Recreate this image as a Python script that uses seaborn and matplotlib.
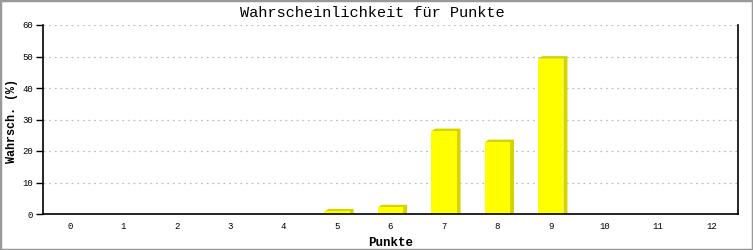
import matplotlib
matplotlib.use("Agg")
import matplotlib.pyplot as plt
from matplotlib.patches import Polygon, Rectangle
import seaborn as sns
import pandas as pd

punkte = [0, 1, 2, 3, 4, 5, 6, 7, 8, 9, 10, 11, 12]
wahrsch = [0, 0, 0, 0, 0, 0.8, 2.1, 26.3, 22.8, 49.3, 0, 0, 0]
y_ticks = [0, 10, 20, 30, 40, 50, 60]

df = pd.DataFrame({"Punkte": [str(p) for p in punkte], "Wahrsch": wahrsch})

sns.set_style("white")
plt.rcParams['font.family'] = ['Liberation Mono', 'DejaVu Sans Mono']
plt.rcParams['text.color'] = 'black'
plt.rcParams['axes.labelcolor'] = 'black'
plt.rcParams['xtick.color'] = 'black'
plt.rcParams['ytick.color'] = 'black'

fig = plt.figure(figsize=(7.53, 2.5), dpi=100)
ax = fig.add_axes([43/753, 36/250, 695/753, 189/250])

sns.barplot(data=df, x="Punkte", y="Wahrsch", color="#ffff00", width=0.47,
            saturation=1, ax=ax, zorder=3, linewidth=0)

# 3D shadow derived from bar patches
dx_px, dy_px = 4.0, 3.0
for p in list(ax.patches):
    x0, y0 = p.get_x(), p.get_y()
    w, h = p.get_width(), p.get_height()
    if h <= 0:
        continue
    pts = ax.transData.transform([(x0, y0), (x0 + w, y0), (x0 + w, y0 + h), (x0, y0 + h)])
    poly_disp = [
        pts[3], pts[3] + [dx_px, dy_px], pts[2] + [dx_px, dy_px],
        pts[1] + [dx_px, 0], pts[1], pts[2]
    ]
    poly_data = ax.transData.inverted().transform(poly_disp)
    ax.add_patch(Polygon(poly_data, closed=True, facecolor="#d4d400",
                         edgecolor="none", zorder=2))

ax.set_ylim(0, 60)
ax.set_xlim(-0.5, len(punkte) - 0.5)
ax.set_yticks(y_ticks)
ax.set_yticklabels([str(v) for v in y_ticks], fontsize=6.5)
ax.tick_params(axis='x', length=0, labelsize=6.5, pad=6, colors='black')
ax.tick_params(axis='y', length=5, width=1, direction='out', left=True, pad=2, colors='black')
ax.yaxis.grid(True, linestyle=(0, (1.5, 3)), color="#c0c0c0", linewidth=0.9, zorder=0)
ax.set_axisbelow(True)

for s in ["left", "bottom", "right"]:
    ax.spines[s].set_visible(True)
    ax.spines[s].set_color("black")
    ax.spines[s].set_linewidth(1.2)
ax.spines["top"].set_visible(False)
ax.spines["bottom"].set_zorder(5)

ax.set_xlabel("Punkte", fontsize=9, fontweight="bold", labelpad=4, color="black")
ax.set_ylabel("")
fig.text(12/753, 1 - 121/250, "Wahrsch. (%)", rotation=90, ha="center", va="center",
         fontsize=8.5, fontweight="bold", color="black")
fig.text(372/753, 1 - 13/250, "Wahrscheinlichkeit für Punkte", ha="center", va="center",
         fontsize=11, color="black")

fig.patches.append(Rectangle((0, 0), 1, 1, transform=fig.transFigure, fill=False,
                             edgecolor="#999999", linewidth=2.5, zorder=10))

fig.savefig("out.png", dpi=100)
